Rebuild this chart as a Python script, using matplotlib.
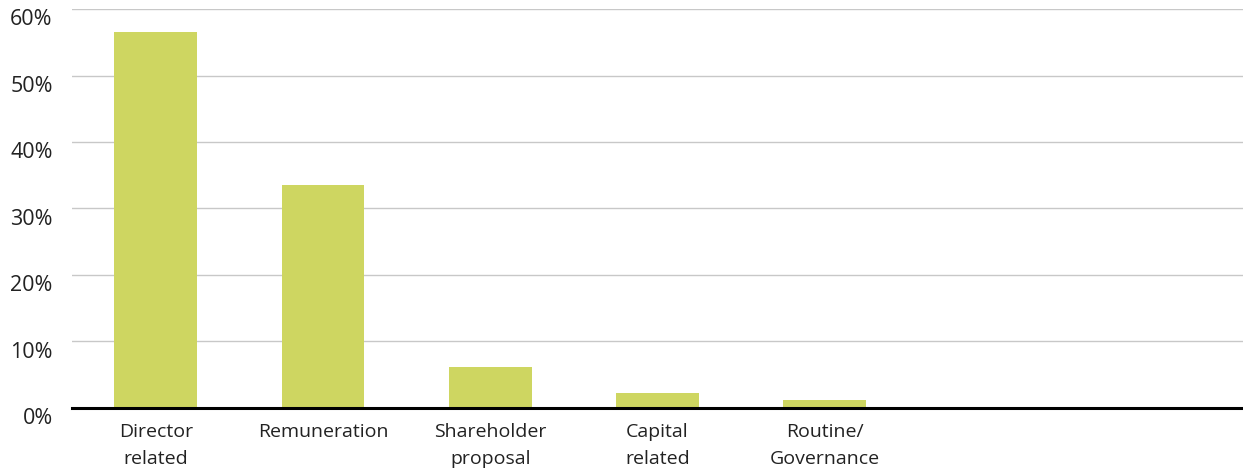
import matplotlib
matplotlib.use("Agg")
import matplotlib.pyplot as plt
import matplotlib.transforms as mtransforms

# categories (last two slots are empty in the original)
categories = ["Director\nrelated", "Remuneration", "Shareholder\nproposal",
              "Capital\nrelated", "Routine/\nGovernance", "", ""]
values = [56.6, 33.5, 6.2, 2.3, 1.2, 0, 0]
yticks = [0, 10, 20, 30, 40, 50, 60]

plt.rcParams["font.family"] = ["Open Sans", "DejaVu Sans"]

fig = plt.figure(figsize=(12.43, 4.76), dpi=100)
ax = fig.add_axes([0.058, 0.143, 0.942, 0.838])

x = list(range(len(categories)))
ax.bar(x, values, width=0.495, color="#ced661", zorder=3)

ax.set_xlim(-0.5, len(categories) - 0.5)
ax.set_ylim(0, 60)
ax.set_yticks(yticks)
ax.set_yticklabels([f"{v}%" for v in yticks], fontsize=15.5, color="#222222")
ax.set_xticks(x)
ax.set_xticklabels(categories, fontsize=14, color="#222222", linespacing=1.6)

ax.grid(axis="y", color="#c8c8c8", linewidth=1.0, zorder=0)
ax.axhline(0, color="black", linewidth=2.2, zorder=4, clip_on=False)

for s in ax.spines.values():
    s.set_visible(False)
ax.tick_params(axis="both", length=0)
ax.tick_params(axis="y", pad=14)
ax.tick_params(axis="x", pad=11)

# y labels sit a little below their gridlines
shift = mtransforms.ScaledTranslation(0, -6 / 72, fig.dpi_scale_trans)
for lbl in ax.get_yticklabels():
    lbl.set_transform(lbl.get_transform() + shift)

fig.savefig("out.png", dpi=100)
